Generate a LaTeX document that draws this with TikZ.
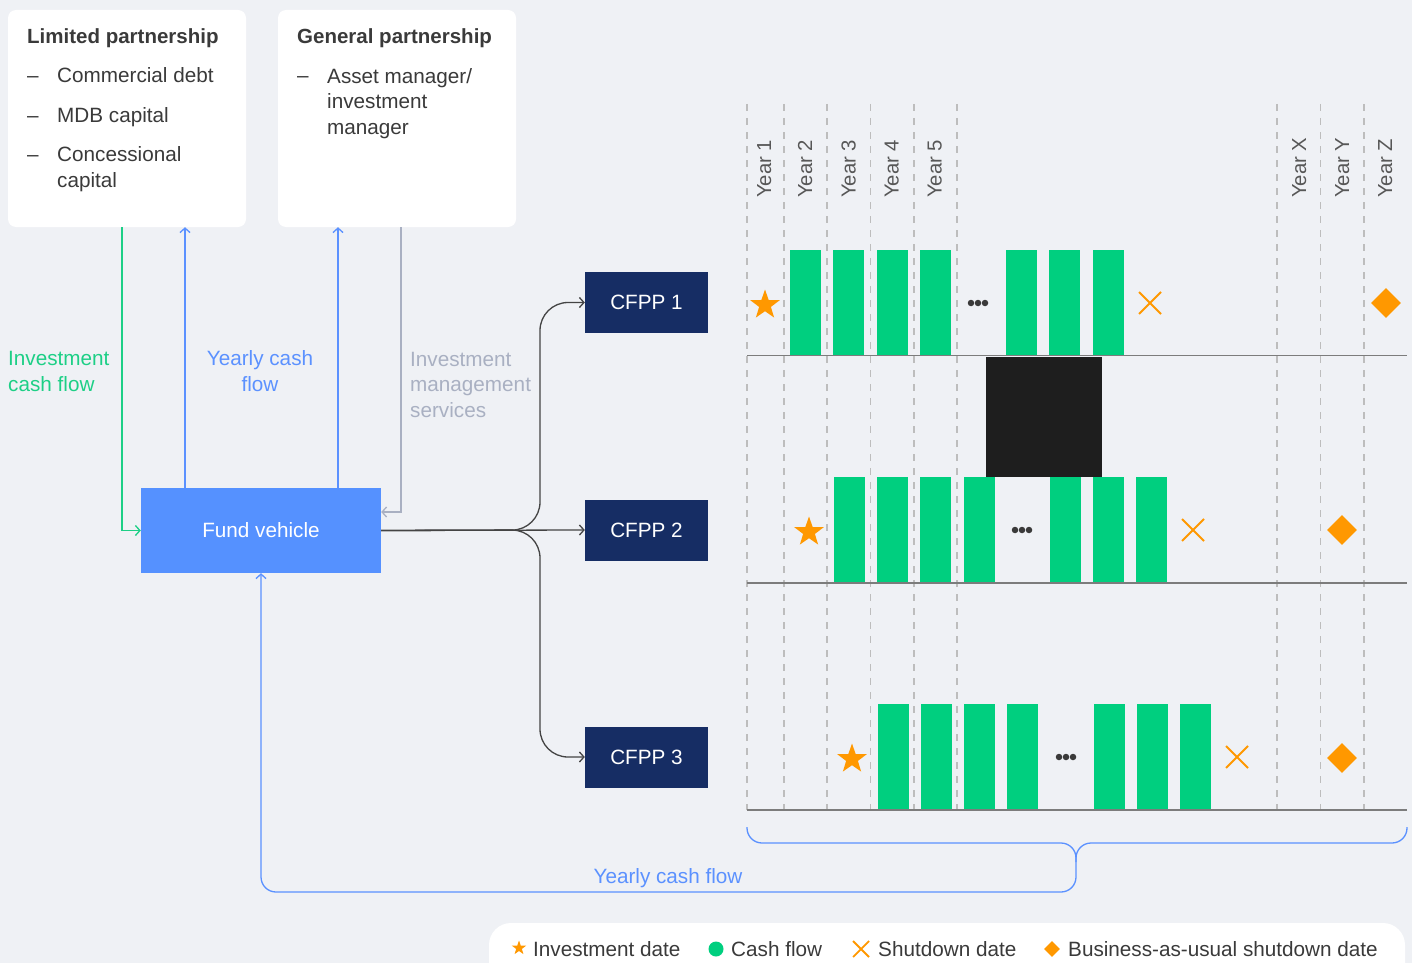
\documentclass[tikz,border=0pt]{standalone}
\usepackage{fontspec}
\setmainfont{Liberation Sans}
\usetikzlibrary{arrows.meta,shapes.geometric,calc}
\definecolor{bgc}{HTML}{EFF1F5}
\definecolor{cfgreen}{HTML}{00CF7F}
\definecolor{lgreen}{HTML}{1DCF86}
\definecolor{fvblue}{HTML}{5591FF}
\definecolor{lblue}{HTML}{5B91FF}
\definecolor{lgray}{HTML}{A9B0C2}
\definecolor{navy}{HTML}{162D64}
\definecolor{org}{HTML}{FF9800}
\definecolor{txt}{HTML}{3A3A3A}
\definecolor{dline}{HTML}{444444}
\definecolor{axisc}{HTML}{7C7C7C}
\definecolor{dashc}{HTML}{BDBDBD}
\definecolor{blk}{HTML}{1E1E1E}
\tikzset{
  fnt/.style={font=\fontsize{20.7}{25.5}\selectfont},
  wbox/.style={fill=white, rounded corners=8pt, inner sep=0pt, minimum width=238pt, minimum height=217pt},
  fvbox/.style={fill=fvblue, inner sep=0pt, minimum width=240pt, minimum height=85pt, text=white, fnt},
  cfbox/.style={fill=navy, inner sep=0pt, minimum width=123pt, minimum height=61pt, text=white, fnt},
  ttl/.style={text=txt, font=\fontsize{20.5}{25.5}\selectfont\bfseries, anchor=base west, inner sep=0pt},
  itm/.style={fnt, text=txt, anchor=base west, inner sep=0pt, align=left},
  arr/.style={-{Straight Barb[length=4.5pt,width=10pt]}, line width=1.3pt},
  yr/.style={font=\fontsize{20.3}{25}\selectfont, text=txt!85, rotate=90, anchor=base west, inner sep=0pt},
  starm/.style={star, star points=5, star point ratio=2.5, fill=org, inner sep=0pt, minimum size=#1},
  diam/.style={diamond, aspect=1, fill=org, inner sep=0pt, minimum size=#1},
  dotm/.style={circle, fill=txt, inner sep=0pt, minimum size=6.5pt},
}
\begin{document}
\begin{tikzpicture}[x=1pt,y=-1pt]
\useasboundingbox (0,0) rectangle (1412,963);
\fill[bgc] (0,0) rectangle (1412,963);

% top boxes
\node[wbox] (lp) at (127,118.5) {};
\node[wbox] (gp) at (397,118.5) {};
\node[ttl] (lpt) at (27,44) {Limited partnership};
\node[itm] (lpd1) at (27,83) {--};
\node[itm] (lpi1) at (57,83) {Commercial debt};
\node[itm] (lpd2) at (27,122) {--};
\node[itm] (lpi2) at (57,122) {MDB capital};
\node[itm] (lpd3) at (27,161) {--};
\node[itm] (lpi3) at (57,187) {Concessional\\capital};
\node[ttl] (gpt) at (297,44) {General partnership};
\node[itm] (gpd1) at (297,83) {--};
\node[itm] (gpi1) at (327,134.5) {Asset manager/\\investment\\manager};

% fund vehicle and CFPPs
\node[fvbox] (fv) at (261,530.5) {Fund vehicle};
\node[cfbox] (c1) at (646.5,302.5) {CFPP 1};
\node[cfbox] (c2) at (646.5,530) {CFPP 2};
\node[cfbox] (c3) at (646.5,757) {CFPP 3};

% connectors
\draw[arr, lgreen] (lp.south -| 122,0) |- (fv.west);
\draw[arr, lblue] (fv.north -| 185,0) -- (lp.south -| 185,0);
\draw[arr, lblue] (fv.north -| 338,0) -- (gp.south -| 338,0);
\draw[arr, lgray] (gp.south -| 401,0) -- (401,512) -- (fv.east |- 0,512);
\draw[arr, dline] (fv.east) -- (c2.west);
\draw[arr, dline, rounded corners=28pt] (fv.east) -- (540,530) -- (540,302.5) -- (c1.west);
\draw[arr, dline, rounded corners=28pt] (fv.east) -- (540,530) -- (540,757) -- (c3.west);

% labels
\node[itm, text=lgreen] (l1) at (8,391) {Investment\\cash flow};
\node[fnt, text=lblue, align=center, anchor=base, inner sep=0pt] (l2) at (260,391) {Yearly cash\\flow};
\node[itm, text=lgray] (l3) at (410,417) {Investment\\management\\services};

% timeline grid
\foreach \x in {747,784,827,870.5,914,957,1277,1320.5,1364}
  \draw[dashc, line width=1.2pt, dash pattern=on 7pt off 7pt] (\x,104) -- (\x,810);
\node[yr] (y1) at (771,198) {Year 1};
\node[yr] (y2) at (812,198) {Year 2};
\node[yr] (y3) at (855.5,198) {Year 3};
\node[yr] (y4) at (898.5,198) {Year 4};
\node[yr] (y5) at (941.5,198) {Year 5};
\node[yr] (yx) at (1306,198) {Year X};
\node[yr] (yy) at (1349,198) {Year Y};
\node[yr] (yz) at (1392,198) {Year Z};

% bars
\foreach \x in {790,833,877,920,1006,1049,1093}
  \fill[cfgreen] (\x,250) rectangle ++(31,105.5);
\foreach \x in {834,877,920,964,1050,1093,1136}
  \fill[cfgreen] (\x,477) rectangle ++(31,106);
\foreach \x in {878,921,964,1007,1094,1137,1180}
  \fill[cfgreen] (\x,704) rectangle ++(31,106);

% axes
\draw[axisc, line width=1.5pt] (747,355.5) -- (1407,355.5);
\draw[axisc, line width=1.5pt] (747,583) -- (1407,583);
\draw[axisc, line width=1.5pt] (747,810) -- (1407,810);

% black block
\fill[blk] (986,357) rectangle (1102,477);

% markers
\node[starm=31pt] (s1) at (765,305) {};
\node[starm=31pt] (s2) at (809,532) {};
\node[starm=31pt] (s3) at (852,759) {};
\foreach \cx/\cy in {1150/303,1193/530,1237/757}
  \draw[org, line width=2pt] (\cx-11,\cy-11) -- (\cx+11,\cy+11) (\cx-11,\cy+11) -- (\cx+11,\cy-11);
\node[diam=30pt] (d1) at (1386,303) {};
\node[diam=30pt] (d2) at (1342,530) {};
\node[diam=30pt] (d3) at (1342,758) {};
\foreach \cx/\cy in {978/303,1022/530,1066/757}{
  \node[dotm] at (\cx-7,\cy) {};
  \node[dotm] at (\cx,\cy) {};
  \node[dotm] at (\cx+7,\cy) {};
}

% brace and yearly cash flow back to fund vehicle
\draw[lblue, line width=1.3pt, rounded corners=15pt] (1407,827) -- (1407,843) -- (1076,843) -- (1076,862);
\draw[arr, lblue, rounded corners=15pt] (747,827) -- (747,843) -- (1076,843) -- (1076,892) -- (fv.south |- 0,892) -- (fv.south);
\node[fnt, text=lblue, anchor=base, inner sep=0pt] (l4) at (668,883) {Yearly cash flow};

% legend
\node[fill=white, rounded corners=22pt, minimum width=916pt, minimum height=80pt, inner sep=0pt] (leg) at (947,963) {};
\node[starm=15pt] (ls) at (519,948) {};
\node[itm] (lt1) at (533,956) {Investment date};
\node[circle, fill=cfgreen, inner sep=0pt, minimum size=15pt] (lc) at (716,949) {};
\node[itm] (lt2) at (731,956) {Cash flow};
\draw[org, line width=1.8pt] (853,941) -- (869,957) (853,957) -- (869,941);
\node[itm] (lt3) at (878,956) {Shutdown date};
\node[diam=16pt] (ld) at (1052,949) {};
\node[itm] (lt4) at (1068,956) {Business-as-usual shutdown date};
\end{tikzpicture}
\end{document}
